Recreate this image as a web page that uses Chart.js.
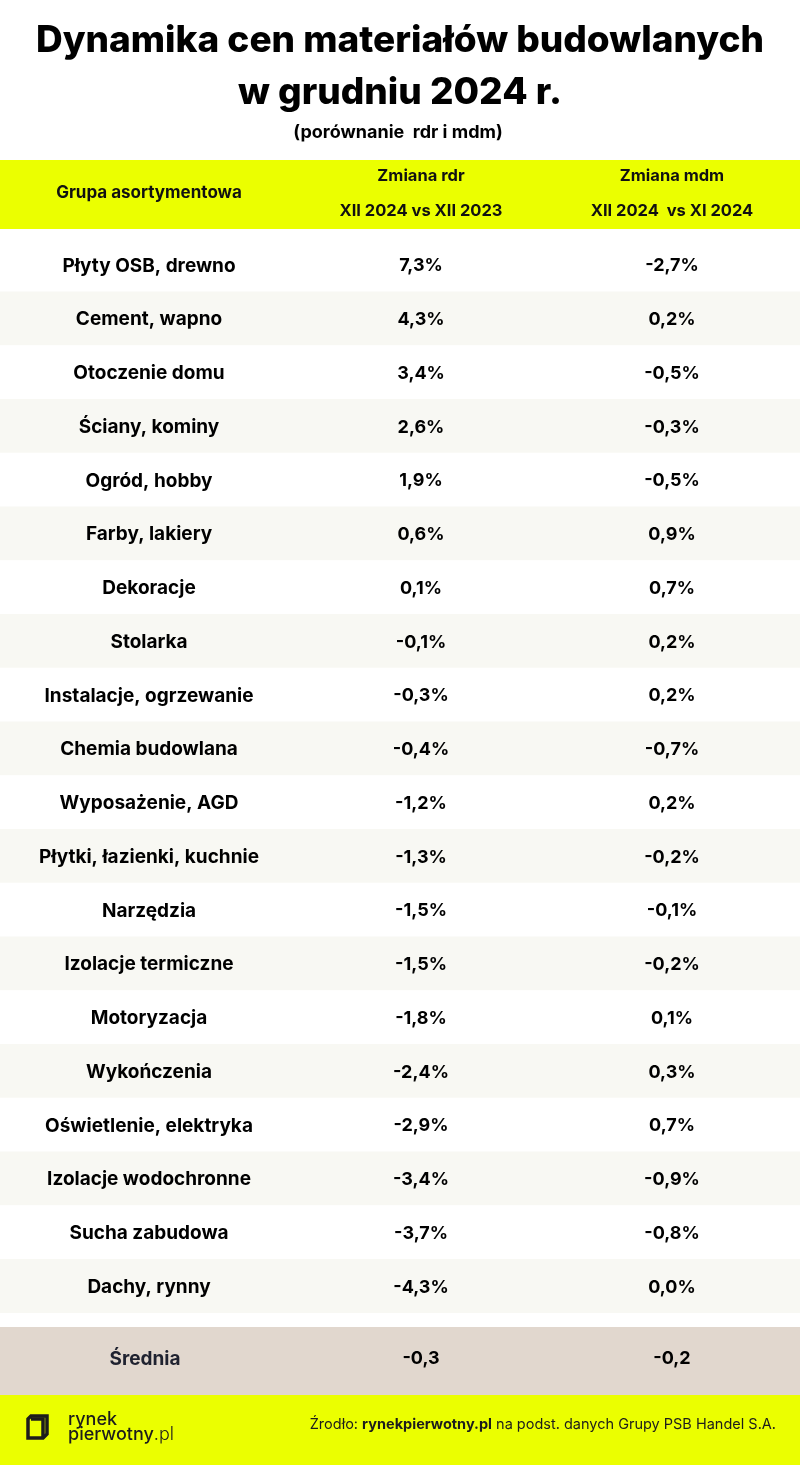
<!DOCTYPE html>
<html>
<head>
<meta charset="utf-8">
<script src="https://cdn.jsdelivr.net/npm/chart.js@4.4.1/dist/chart.umd.min.js"></script>
<style>
  html, body { margin: 0; padding: 0; background: #fff; }
  #wrap { width: 800px; height: 1465px; position: relative; }
</style>
</head>
<body>
<div id="wrap"><canvas id="myChart"></canvas></div>
<script>
// dane
const groups = [
  "Płyty OSB, drewno", "Cement, wapno", "Otoczenie domu", "Ściany, kominy",
  "Ogród, hobby", "Farby, lakiery", "Dekoracje", "Stolarka",
  "Instalacje, ogrzewanie", "Chemia budowlana", "Wyposażenie, AGD",
  "Płytki, łazienki, kuchnie", "Narzędzia", "Izolacje termiczne",
  "Motoryzacja", "Wykończenia", "Oświetlenie, elektryka",
  "Izolacje wodochronne", "Sucha zabudowa", "Dachy, rynny"
];
const changeYoY = [7.3, 4.3, 3.4, 2.6, 1.9, 0.6, 0.1, -0.1, -0.3, -0.4, -1.2,
  -1.3, -1.5, -1.5, -1.8, -2.4, -2.9, -3.4, -3.7, -4.3];
const changeMoM = [-2.7, 0.2, -0.5, -0.3, -0.5, 0.9, 0.7, 0.2, 0.2, -0.7, 0.2,
  -0.2, -0.1, -0.2, 0.1, 0.3, 0.7, -0.9, -0.8, 0.0];
const avgYoY = -0.3;
const avgMoM = -0.2;

const headers = ["Grupa asortymentowa", "Zmiana rdr", "XII 2024 vs XII 2023", "Zmiana mdm", "XII 2024  vs XI 2024"];

const FONT = "Inter, 'Open Sans', sans-serif";
const YELLOW = "#ebff00";
const STRIPE = "#f8f8f3";
const colX = [149, 421, 672];

function fmt(v, pct) {
  const s = v.toFixed(1).replace(".", ",");
  return pct ? s + "%" : s;
}

const decor = {
  id: "decor",
  beforeDraw(chart) {
    const c = chart.ctx;
    c.save();
    c.fillStyle = "#fff";
    c.fillRect(0, 0, 800, 1465);
    c.fillStyle = "#000";
    c.textAlign = "center";
    c.textBaseline = "middle";
    c.font = "800 37px " + FONT;
    c.fillText("Dynamika cen materiałów budowlanych", 400, 41);
    c.fillText("w grudniu 2024 r.", 400, 93);
    c.font = "700 18px " + FONT;
    c.fillText("(porównanie  rdr i mdm)", 398, 133);

    c.fillStyle = YELLOW;
    c.fillRect(0, 160, 800, 69);
    c.fillStyle = "#111";
    c.font = "700 17px " + FONT;
    c.fillText(headers[0], colX[0], 193);
    c.font = "700 16.5px " + FONT;
    c.fillText(headers[1], colX[1], 176);
    c.fillText(headers[2], colX[1], 211);
    c.fillText(headers[3], colX[2], 176);
    c.fillText(headers[4], colX[2], 211);

    // średnia
    c.fillStyle = "#e1d7ce";
    c.fillRect(0, 1327, 800, 68);
    c.fillStyle = "#1f2230";
    c.font = "700 19px " + FONT;
    c.fillText("Średnia", 145, 1359);
    c.fillStyle = "#000";
    c.font = "700 18px " + FONT;
    c.fillText(fmt(avgYoY, false), colX[1], 1359);
    c.fillText(fmt(avgMoM, false), colX[2], 1359);

    // stopka
    c.fillStyle = YELLOW;
    c.fillRect(0, 1395, 800, 70);
    c.strokeStyle = "#1c1c1c";
    c.lineWidth = 3.5;
    c.lineJoin = "miter";
    c.beginPath();
    c.moveTo(31, 1416); c.lineTo(47, 1416); c.lineTo(47, 1434);
    c.lineTo(43, 1438); c.lineTo(28, 1438); c.lineTo(28, 1419); c.closePath();
    c.stroke();
    c.beginPath();
    c.moveTo(31, 1419); c.lineTo(43, 1419); c.lineTo(43, 1438);
    c.stroke();
    c.textAlign = "left";
    c.textBaseline = "alphabetic";
    c.fillStyle = "#1c1c1c";
    c.font = "500 18px " + FONT;
    c.fillText("rynek", 68, 1425);
    c.fillText("pierwotny", 68, 1440);
    const w = c.measureText("pierwotny").width;
    c.font = "300 18px " + FONT;
    c.fillText(".pl", 68 + w, 1440);

    c.textAlign = "right";
    c.font = "400 14.5px " + FONT;
    const tail = " na podst. danych Grupy PSB Handel S.A.";
    c.fillText(tail, 776, 1429);
    let x = 776 - c.measureText(tail).width;
    c.font = "700 14.5px " + FONT;
    c.fillText("rynekpierwotny.pl", x, 1429);
    x -= c.measureText("rynekpierwotny.pl").width;
    c.font = "400 14.5px " + FONT;
    c.fillText("Źrodło: ", x, 1429);
    c.restore();
  },
  afterDatasetsDraw(chart) {
    const c = chart.ctx;
    const y = chart.scales.y;
    c.save();
    c.fillStyle = "#000";
    c.textAlign = "center";
    c.textBaseline = "middle";
    groups.forEach((g, i) => {
      const py = y.getPixelForValue(i) + 1;
      c.font = "700 19px " + FONT;
      c.fillText(g, colX[0], py);
      c.font = "700 18px " + FONT;
      c.fillText(fmt(changeYoY[i], true), colX[1], py);
      c.fillText(fmt(changeMoM[i], true), colX[2], py);
    });
    c.restore();
  }
};

new Chart(document.getElementById("myChart").getContext("2d"), {
  type: "bar",
  data: {
    labels: groups,
    datasets: [{
      data: groups.map(() => [0, 1]),
      backgroundColor: groups.map((g, i) => i % 2 ? STRIPE : "#ffffff"),
      borderWidth: 0,
      barPercentage: 1,
      categoryPercentage: 1
    }]
  },
  options: {
    indexAxis: "y",
    responsive: true,
    maintainAspectRatio: false,
    animation: false,
    layout: { padding: { top: 238, bottom: 152, left: 0, right: 0 } },
    scales: {
      x: { display: false, min: 0, max: 1 },
      y: { display: false, offset: true }
    },
    plugins: {
      legend: { display: false },
      tooltip: { enabled: false },
      title: { display: false }
    }
  },
  plugins: [decor]
});
</script>
</body>
</html>
